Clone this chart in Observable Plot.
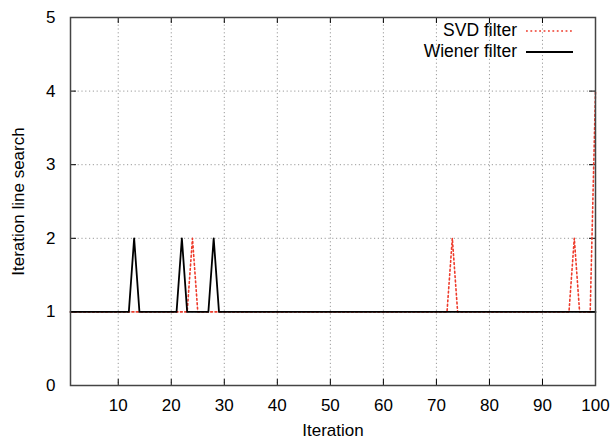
<!DOCTYPE html>
<html>
<head>
<meta charset="utf-8">
<script src="https://cdn.jsdelivr.net/npm/d3@7"></script>
<script src="https://cdn.jsdelivr.net/npm/@observablehq/plot@0.6"></script>
<style>
  html, body { margin: 0; padding: 0; background: #fff; }
  #wrap { position: relative; width: 614px; height: 444px; font-family: "Liberation Sans", Arial, sans-serif; }
  #legend { position: absolute; right: 41px; top: 20px; font-size: 17.5px; line-height: 21px; color: #000; }
  #legend .row { display: flex; align-items: center; justify-content: flex-end; }
  #legend svg { margin-left: 9px; }
</style>
</head>
<body>
<div id="wrap"></div>
<script>
// Breakpoints of each series (iteration, number of line-search iterations)
const svdIter   = [1, 23, 24, 25, 72, 73, 74, 95, 96, 97, 99, 100];
const svdVal    = [1,  1,  2,  1,  1,  2,  1,  1,  2,  1,  1,   4];
const wienerIter = [1, 12, 13, 14, 21, 22, 23, 27, 28, 29, 100];
const wienerVal  = [1,  1,  2,  1,  1,  2,  1,  1,  2,  1,   1];

const xTicks = [10, 20, 30, 40, 50, 60, 70, 80, 90, 100];
const yTicks = [0, 1, 2, 3, 4, 5];
const xGrid = [10, 20, 30, 40, 50, 60, 70, 80, 90];
const yGrid = [1, 2, 3, 4];

const seriesNames = ["SVD filter", "Wiener filter"];
const seriesColors = ["#ee3b2b", "#000000"];

const svd = svdIter.map((x, i) => ({x, y: svdVal[i]}));
const wiener = wienerIter.map((x, i) => ({x, y: wienerVal[i]}));

const W = 614, H = 444;
const mL = 70, mR = 19, mT = 17, mB = 59;
const pw = W - mL - mR, ph = H - mT - mB;
const tick = 6;

const chart = Plot.plot({
  width: W,
  height: H,
  marginLeft: mL,
  marginRight: mR,
  marginTop: mT,
  marginBottom: mB,
  style: { fontFamily: "Liberation Sans, Arial, sans-serif", fontSize: "17px", color: "#000", background: "#fff" },
  x: { domain: [1, 100] },
  y: { domain: [0, 5] },
  marks: [
    Plot.ruleX(xGrid, { stroke: "#9a9a9a", strokeDasharray: "1.2,2.6", strokeWidth: 1 }),
    Plot.ruleY(yGrid, { stroke: "#9a9a9a", strokeDasharray: "1.2,2.6", strokeWidth: 1 }),
    // inward tick marks (bottom/top, left/right)
    Plot.ruleX(xTicks, { insetTop: ph - tick, stroke: "#000", strokeWidth: 1 }),
    Plot.ruleX(xTicks, { insetBottom: ph - tick, stroke: "#000", strokeWidth: 1 }),
    Plot.ruleY(yTicks, { insetRight: pw - tick, stroke: "#000", strokeWidth: 1 }),
    Plot.ruleY(yTicks, { insetLeft: pw - tick, stroke: "#000", strokeWidth: 1 }),
    Plot.line(svd, { x: "x", y: "y", stroke: seriesColors[0], strokeWidth: 1.6, strokeDasharray: "1.8,2.6" }),
    Plot.line(wiener, { x: "x", y: "y", stroke: seriesColors[1], strokeWidth: 1.8 }),
    Plot.axisX({ ticks: xTicks, tickFormat: "d", tickSize: 0, tickPadding: 13, fontSize: 17, label: "Iteration", labelAnchor: "center", labelOffset: 50, labelArrow: "none" }),
    Plot.axisY({ ticks: yTicks, tickFormat: "d", tickSize: 0, tickPadding: 15, fontSize: 17, label: "Iteration line search", labelAnchor: "center", labelOffset: 59, labelArrow: "none" }),
    Plot.frame({ stroke: "#444", strokeWidth: 1.5 })
  ]
});

const wrap = document.getElementById("wrap");
wrap.appendChild(chart);

const legend = document.createElement("div");
legend.id = "legend";
seriesNames.forEach((name, i) => {
  const row = document.createElement("div");
  row.className = "row";
  const dash = i === 0 ? 'stroke-dasharray="1.8,2.6"' : "";
  row.innerHTML = `<span>${name}</span><svg width="47" height="10"><line x1="0" x2="47" y1="5" y2="5" stroke="${seriesColors[i]}" stroke-width="${i === 0 ? 1.4 : 1.8}" ${dash}/></svg>`;
  legend.appendChild(row);
});
wrap.appendChild(legend);
</script>
</body>
</html>
